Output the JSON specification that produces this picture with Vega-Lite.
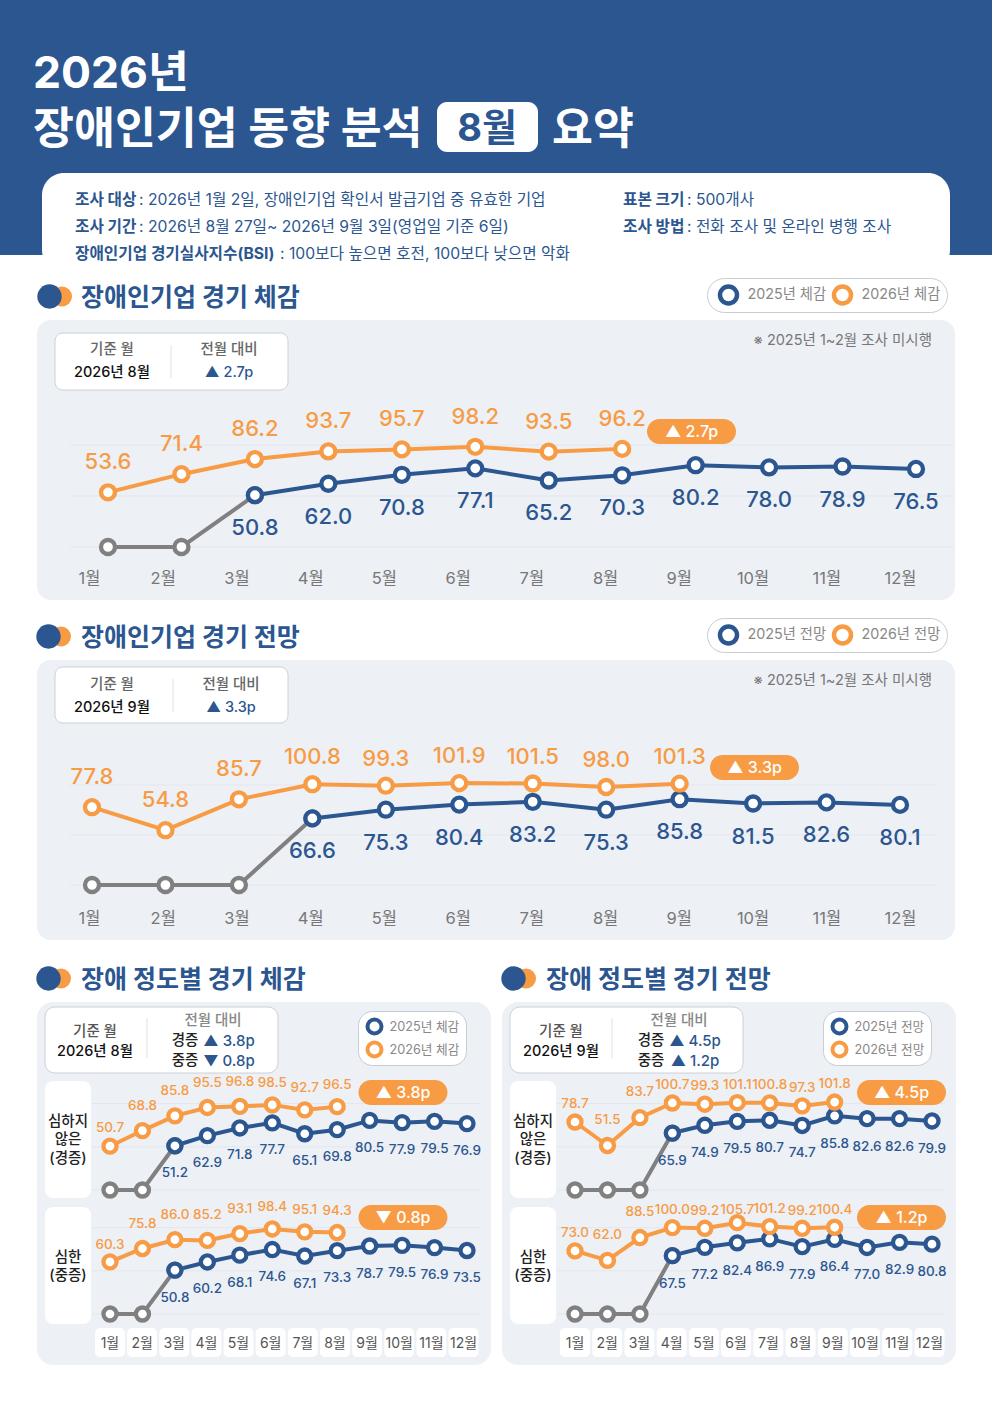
{
"$schema":"https://vega.github.io/schema/vega-lite/v6.json",
"padding":0,"spacing":0,"bounds":"flush","center":true,
"resolve":{"scale":{"stroke":"independent"},"legend":{"stroke":"independent"}},
"config":{"font":"Inter, 'Noto Sans CJK KR'","view":{"stroke":null},"scale":{"pointPadding":0,"bandPaddingInner":0,"bandPaddingOuter":0},"text":{"baseline":"middle"},"legend":{"fillColor":"#fff","strokeColor":"#c8ccd3","padding":6,"labelColor":"#888","symbolType":"circle"}},
"datasets":{
"months":[{"month":"1월"},{"month":"2월"},{"month":"3월"},{"month":"4월"},{"month":"5월"},{"month":"6월"},{"month":"7월"},{"month":"8월"},{"month":"9월"},{"month":"10월"},{"month":"11월"},{"month":"12월"}],
"grid":[{"value":0},{"value":50},{"value":100}],
"info":[{"c":"좌","line":"대상","head":"조사 대상","body":": 2026년 1월 2일, 장애인기업 확인서 발급기업 중 유효한 기업"},{"c":"좌","line":"기간","head":"조사 기간","body":": 2026년 8월 27일~ 2026년 9월 3일(영업일 기준 6일)"},{"c":"좌","line":"지수","head":"장애인기업 경기실사지수(BSI)","body":": 100보다 높으면 호전, 100보다 낮으면 악화"},{"c":"우","line":"대상","head":"표본 크기","body":": 500개사"},{"c":"우","line":"기간","head":"조사 방법","body":": 전화 조사 및 온라인 병행 조사"}],
"kpi":[{"side":"좌","sev":"경증","v":"▲ 3.8p","label":"심하지\n않은\n(경증)"},{"side":"좌","sev":"중증","v":"▼ 0.8p","label":"심한\n(중증)"},{"side":"우","sev":"경증","v":"▲ 4.5p","label":"심하지\n않은\n(경증)"},{"side":"우","sev":"중증","v":"▲ 1.2p","label":"심한\n(중증)"}],
"sense":[{"series":"미시행","month":"1월","value":0},{"series":"미시행","month":"2월","value":0},{"series":"미시행","month":"3월","value":50.8},
{"series":"2025년 체감","month":"3월","value":50.8},{"series":"2025년 체감","month":"4월","value":62.0},{"series":"2025년 체감","month":"5월","value":70.8},{"series":"2025년 체감","month":"6월","value":77.1},{"series":"2025년 체감","month":"7월","value":65.2},{"series":"2025년 체감","month":"8월","value":70.3},{"series":"2025년 체감","month":"9월","value":80.2},{"series":"2025년 체감","month":"10월","value":78.0},{"series":"2025년 체감","month":"11월","value":78.9},{"series":"2025년 체감","month":"12월","value":76.5},
{"series":"2026년 체감","month":"1월","value":53.6},{"series":"2026년 체감","month":"2월","value":71.4},{"series":"2026년 체감","month":"3월","value":86.2},{"series":"2026년 체감","month":"4월","value":93.7},{"series":"2026년 체감","month":"5월","value":95.7},{"series":"2026년 체감","month":"6월","value":98.2},{"series":"2026년 체감","month":"7월","value":93.5},{"series":"2026년 체감","month":"8월","value":96.2}],
"outlook":[{"series":"미시행","month":"1월","value":0},{"series":"미시행","month":"2월","value":0},{"series":"미시행","month":"3월","value":0},{"series":"미시행","month":"4월","value":66.6},
{"series":"2025년 전망","month":"4월","value":66.6},{"series":"2025년 전망","month":"5월","value":75.3},{"series":"2025년 전망","month":"6월","value":80.4},{"series":"2025년 전망","month":"7월","value":83.2},{"series":"2025년 전망","month":"8월","value":75.3},{"series":"2025년 전망","month":"9월","value":85.8},{"series":"2025년 전망","month":"10월","value":81.5},{"series":"2025년 전망","month":"11월","value":82.6},{"series":"2025년 전망","month":"12월","value":80.1},
{"series":"2026년 전망","month":"1월","value":77.8},{"series":"2026년 전망","month":"2월","value":54.8},{"series":"2026년 전망","month":"3월","value":85.7},{"series":"2026년 전망","month":"4월","value":100.8},{"series":"2026년 전망","month":"5월","value":99.3},{"series":"2026년 전망","month":"6월","value":101.9},{"series":"2026년 전망","month":"7월","value":101.5},{"series":"2026년 전망","month":"8월","value":98.0},{"series":"2026년 전망","month":"9월","value":101.3}],
"mildSense":[{"series":"미시행","month":"1월","value":0},{"series":"미시행","month":"2월","value":0},{"series":"미시행","month":"3월","value":51.2},
{"series":"2025년 체감","month":"3월","value":51.2},{"series":"2025년 체감","month":"4월","value":62.9},{"series":"2025년 체감","month":"5월","value":71.8},{"series":"2025년 체감","month":"6월","value":77.7},{"series":"2025년 체감","month":"7월","value":65.1},{"series":"2025년 체감","month":"8월","value":69.8},{"series":"2025년 체감","month":"9월","value":80.5},{"series":"2025년 체감","month":"10월","value":77.9},{"series":"2025년 체감","month":"11월","value":79.5},{"series":"2025년 체감","month":"12월","value":76.9},
{"series":"2026년 체감","month":"1월","value":50.7},{"series":"2026년 체감","month":"2월","value":68.8},{"series":"2026년 체감","month":"3월","value":85.8},{"series":"2026년 체감","month":"4월","value":95.5},{"series":"2026년 체감","month":"5월","value":96.8},{"series":"2026년 체감","month":"6월","value":98.5},{"series":"2026년 체감","month":"7월","value":92.7},{"series":"2026년 체감","month":"8월","value":96.5}],
"severeSense":[{"series":"미시행","month":"1월","value":0},{"series":"미시행","month":"2월","value":0},{"series":"미시행","month":"3월","value":50.8},
{"series":"2025년 체감","month":"3월","value":50.8},{"series":"2025년 체감","month":"4월","value":60.2},{"series":"2025년 체감","month":"5월","value":68.1},{"series":"2025년 체감","month":"6월","value":74.6},{"series":"2025년 체감","month":"7월","value":67.1},{"series":"2025년 체감","month":"8월","value":73.3},{"series":"2025년 체감","month":"9월","value":78.7},{"series":"2025년 체감","month":"10월","value":79.5},{"series":"2025년 체감","month":"11월","value":76.9},{"series":"2025년 체감","month":"12월","value":73.5},
{"series":"2026년 체감","month":"1월","value":60.3},{"series":"2026년 체감","month":"2월","value":75.8},{"series":"2026년 체감","month":"3월","value":86.0},{"series":"2026년 체감","month":"4월","value":85.2},{"series":"2026년 체감","month":"5월","value":93.1},{"series":"2026년 체감","month":"6월","value":98.4},{"series":"2026년 체감","month":"7월","value":95.1},{"series":"2026년 체감","month":"8월","value":94.3}],
"mildOutlook":[{"series":"미시행","month":"1월","value":0},{"series":"미시행","month":"2월","value":0},{"series":"미시행","month":"3월","value":0},{"series":"미시행","month":"4월","value":65.9},
{"series":"2025년 전망","month":"4월","value":65.9},{"series":"2025년 전망","month":"5월","value":74.9},{"series":"2025년 전망","month":"6월","value":79.5},{"series":"2025년 전망","month":"7월","value":80.7},{"series":"2025년 전망","month":"8월","value":74.7},{"series":"2025년 전망","month":"9월","value":85.8},{"series":"2025년 전망","month":"10월","value":82.6},{"series":"2025년 전망","month":"11월","value":82.6},{"series":"2025년 전망","month":"12월","value":79.9},
{"series":"2026년 전망","month":"1월","value":78.7},{"series":"2026년 전망","month":"2월","value":51.5},{"series":"2026년 전망","month":"3월","value":83.7},{"series":"2026년 전망","month":"4월","value":100.7},{"series":"2026년 전망","month":"5월","value":99.3},{"series":"2026년 전망","month":"6월","value":101.1},{"series":"2026년 전망","month":"7월","value":100.8},{"series":"2026년 전망","month":"8월","value":97.3},{"series":"2026년 전망","month":"9월","value":101.8}],
"severeOutlook":[{"series":"미시행","month":"1월","value":0},{"series":"미시행","month":"2월","value":0},{"series":"미시행","month":"3월","value":0},{"series":"미시행","month":"4월","value":67.5},
{"series":"2025년 전망","month":"4월","value":67.5},{"series":"2025년 전망","month":"5월","value":77.2},{"series":"2025년 전망","month":"6월","value":82.4},{"series":"2025년 전망","month":"7월","value":86.9},{"series":"2025년 전망","month":"8월","value":77.9},{"series":"2025년 전망","month":"9월","value":86.4},{"series":"2025년 전망","month":"10월","value":77.0},{"series":"2025년 전망","month":"11월","value":82.9},{"series":"2025년 전망","month":"12월","value":80.8},
{"series":"2026년 전망","month":"1월","value":73.0},{"series":"2026년 전망","month":"2월","value":62.0},{"series":"2026년 전망","month":"3월","value":88.5},{"series":"2026년 전망","month":"4월","value":100.0},{"series":"2026년 전망","month":"5월","value":99.2},{"series":"2026년 전망","month":"6월","value":105.7},{"series":"2026년 전망","month":"7월","value":101.2},{"series":"2026년 전망","month":"8월","value":99.2},{"series":"2026년 전망","month":"9월","value":100.4}]
},
"vconcat":[
{"width":992,"height":255,"view":{"fill":"#2b5690"},
"resolve":{"scale":{"x":"independent","y":"independent"}},
"layer":[
{"data":{"values":[{"k":"개요"}]},"mark":{"type":"rect","fill":"#fff","cornerRadius":22},"encoding":{"x":{"field":"k","type":"nominal","scale":{"range":[42,950]},"axis":null},"y":{"field":"k","type":"nominal","scale":{"range":[173,272]},"axis":null}}},
{"data":{"values":[{"t":"2026년"},{"t":"장애인기업 동향 분석"}]},"mark":{"type":"text","align":"left","fontSize":44.5,"fontWeight":700,"fill":"#fff"},"encoding":{"x":{"field":"t","type":"nominal","scale":{"range":[33,33]},"axis":null},"y":{"field":"t","type":"nominal","scale":{"domain":["2026년","장애인기업 동향 분석"],"range":[75,130.5]},"axis":null},"text":{"field":"t"}}},
{"data":{"values":[{"k":"8월"}]},"mark":{"type":"rect","fill":"#fff","cornerRadius":10},"encoding":{"x":{"field":"k","type":"nominal","scale":{"range":[437,538]},"axis":null},"y":{"field":"k","type":"nominal","scale":{"range":[102,152]},"axis":null}}},
{"data":{"values":[{"t":"8월"}]},"mark":{"type":"text","fontSize":38,"fontWeight":700,"fill":"#2b5690"},"encoding":{"x":{"field":"t","type":"nominal","scale":{"range":[487,487]},"axis":null},"y":{"field":"t","type":"nominal","scale":{"range":[129.5,129.5]},"axis":null},"text":{"field":"t"}}},
{"data":{"values":[{"t":"요약"}]},"mark":{"type":"text","align":"left","fontSize":44.5,"fontWeight":700,"fill":"#fff"},"encoding":{"x":{"field":"t","type":"nominal","scale":{"range":[552,552]},"axis":null},"y":{"field":"t","type":"nominal","scale":{"range":[130.5,130.5]},"axis":null},"text":{"field":"t"}}},
{"data":{"name":"info"},"mark":{"type":"text","align":"left","fontSize":15.7,"fontWeight":700,"fill":"#2b5690"},"encoding":{"x":{"field":"c","type":"nominal","scale":{"domain":["좌","우"],"range":[75,623]},"axis":null},"y":{"field":"line","type":"nominal","scale":{"domain":["대상","기간","지수"],"range":[200,254]},"axis":null},"text":{"field":"head"}}},
{"data":{"name":"info"},"transform":[{"filter":"datum.c==='좌'&&datum.line!=='지수'"}],"mark":{"type":"text","align":"left","fontSize":15.7,"fill":"#2b5690"},"encoding":{"x":{"field":"c","type":"nominal","scale":{"range":[139,139]},"axis":null},"y":{"field":"line","type":"nominal","scale":{"domain":["대상","기간","지수"],"range":[200,254]},"axis":null},"text":{"field":"body"}}},
{"data":{"name":"info"},"transform":[{"filter":"datum.line==='지수'"}],"mark":{"type":"text","align":"left","fontSize":15.7,"fill":"#2b5690"},"encoding":{"x":{"field":"c","type":"nominal","scale":{"range":[280,280]},"axis":null},"y":{"field":"line","type":"nominal","scale":{"domain":["대상","기간","지수"],"range":[200,254]},"axis":null},"text":{"field":"body"}}},
{"data":{"name":"info"},"transform":[{"filter":"datum.c==='우'"}],"mark":{"type":"text","align":"left","fontSize":15.7,"fill":"#2b5690"},"encoding":{"x":{"field":"c","type":"nominal","scale":{"range":[687,687]},"axis":null},"y":{"field":"line","type":"nominal","scale":{"domain":["대상","기간","지수"],"range":[200,254]},"axis":null},"text":{"field":"body"}}}
]},
{"width":992,"height":65,"data":{"values":[{"h":"장애인기업 경기 체감"}]},
"encoding":{"y":{"field":"h","type":"nominal","scale":{"range":[41.5,41.5]},"axis":null}},
"resolve":{"scale":{"x":"independent"}},
"layer":[
{"mark":{"type":"circle","size":400,"fill":"#f79b45","opacity":1},"encoding":{"x":{"field":"h","type":"nominal","scale":{"range":[62,62]},"axis":null}}},
{"mark":{"type":"circle","size":595,"fill":"#2b5690","opacity":1},"encoding":{"x":{"field":"h","type":"nominal","scale":{"range":[49.5,49.5]},"axis":null}}},
{"mark":{"type":"text","align":"left","fontSize":25,"fontWeight":700,"fill":"#2b5690","dy":1.5},"encoding":{"x":{"field":"h","type":"nominal","scale":{"range":[81,81]},"axis":null},"text":{"field":"h"}}}
]},
{"width":918,"height":280,"view":{"fill":"#edf0f5","cornerRadius":14},
"resolve":{"scale":{"x":"independent","y":"independent"},"axis":{"x":"independent","y":"independent"}},
"layer":[
{"data":{"name":"grid"},"mark":{"type":"rule","stroke":"#e3e6ec","strokeWidth":1},"encoding":{"x":{"datum":0,"type":"quantitative","scale":{"domain":[0,1],"range":[33,916]},"axis":null},"x2":{"datum":1},"y":{"field":"value","type":"quantitative","scale":{"domain":[0,100],"range":[227,125]},"axis":null}}},
{"data":{"name":"months"},"mark":{"type":"point","opacity":0},"encoding":{"x":{"field":"month","type":"nominal","sort":null,"scale":{"range":[52,863]},"axis":{"title":null,"orient":"bottom","domain":false,"ticks":false,"grid":false,"labelAngle":0,"labelFontSize":16.5,"labelColor":"#777","labelPadding":0,"labelOverlap":false,"offset":-30}}}},
{"data":{"values":[{"k":"기준"}]},"mark":{"type":"rect","fill":"#fff","stroke":"#ccd0d8","cornerRadius":8},"encoding":{"x":{"field":"k","type":"nominal","scale":{"range":[18,251]},"axis":null},"y":{"field":"k","type":"nominal","scale":{"range":[13,70]},"axis":null}}},
{"data":{"values":[{"k":"구분"}]},"mark":{"type":"rule","stroke":"#dfe2e8"},"encoding":{"x":{"field":"k","type":"nominal","scale":{"type":"point","range":[134,134]},"axis":null},"y":{"datum":0,"type":"quantitative","scale":{"domain":[0,1],"range":[25,58]},"axis":null},"y2":{"datum":1}}},
{"data":{"values":[{"c":"기준","r":"머리","t":"기준 월"},{"c":"기준","r":"값","t":"2026년 8월"},{"c":"대비","r":"머리","t":"전월 대비"},{"c":"대비","r":"값","t":"▲ 2.7p"}]},"mark":{"type":"text","fontSize":14.5,"fontWeight":500},"encoding":{"x":{"field":"c","type":"nominal","scale":{"domain":["기준","대비"],"range":[75,192]},"axis":null},"y":{"field":"r","type":"nominal","scale":{"domain":["머리","값"],"range":[30,53]},"axis":null},"text":{"field":"t"},"color":{"condition":[{"test":"datum.r==='값'&&datum.c==='기준'","value":"#111"},{"test":"datum.r==='값'","value":"#2b5690"}],"value":"#666"}}},
{"data":{"values":[{"t":"※ 2025년 1~2월 조사 미시행"}]},"mark":{"type":"text","align":"right","fontSize":14.5,"fill":"#777"},"encoding":{"x":{"field":"t","type":"nominal","scale":{"range":[895,895]},"axis":null},"y":{"field":"t","type":"nominal","scale":{"range":[21,21]},"axis":null},"text":{"field":"t"}}},
{"data":{"values":[{"k":"증감"}]},"mark":{"type":"rect","fill":"#f79b45","cornerRadius":12.5},"encoding":{"x":{"field":"k","type":"nominal","scale":{"range":[610,699]},"axis":null},"y":{"field":"k","type":"nominal","scale":{"range":[99,124]},"axis":null}}},
{"data":{"values":[{"t":"▲ 2.7p"}]},"mark":{"type":"text","fontSize":16,"fontWeight":500,"fill":"#fff"},"encoding":{"x":{"field":"t","type":"nominal","scale":{"range":[654.5,654.5]},"axis":null},"y":{"field":"t","type":"nominal","scale":{"range":[112,112]},"axis":null},"text":{"field":"t"}}},
{"data":{"name":"sense"},
"encoding":{"x":{"field":"month","type":"nominal","sort":null,"scale":{"range":[71,879]},"axis":null},"y":{"field":"value","type":"quantitative","scale":{"domain":[0,100],"range":[227,125]},"axis":null}},
"layer":[
{"mark":{"type":"line","strokeWidth":4},"encoding":{"stroke":{"field":"series","type":"nominal","scale":{"domain":["미시행","2025년 체감","2026년 체감"],"range":["#808080","#2b5690","#f79b45"]},"legend":{"orient":"none","legendX":670,"legendY":-42,"zindex":2,"direction":"horizontal","title":null,"values":["2025년 체감","2026년 체감"],"cornerRadius":17,"clipHeight":22,"labelFontSize":14.3,"labelExpr":"datum.label+'\u00a0'","symbolSize":289,"symbolStrokeWidth":4.5,"symbolOffset":4.5,"labelOffset":8,"columnPadding":0}}}},
{"mark":{"type":"point","shape":"circle","filled":true,"fill":"#fff","opacity":1,"size":196,"strokeWidth":4.3},"encoding":{"stroke":{"field":"series","type":"nominal","scale":{"domain":["미시행","2025년 체감","2026년 체감"],"range":["#808080","#2b5690","#f79b45"]},"legend":{"orient":"none","legendX":670,"legendY":-42,"zindex":2,"direction":"horizontal","title":null,"values":["2025년 체감","2026년 체감"],"cornerRadius":17,"clipHeight":22,"labelFontSize":14.3,"labelExpr":"datum.label+'\u00a0'","symbolSize":289,"symbolStrokeWidth":4.5,"symbolOffset":4.5,"labelOffset":8,"columnPadding":0}}}},
{"transform":[{"filter":"datum.series==='2025년 체감'"}],"mark":{"type":"text","dy":33,"fontSize":22,"fontWeight":500,"fill":"#2b5690"},"encoding":{"text":{"field":"value","format":".1f"}}},
{"transform":[{"filter":"datum.series==='2026년 체감'"}],"mark":{"type":"text","dy":-30,"fontSize":22,"fontWeight":500,"fill":"#f79b45"},"encoding":{"text":{"field":"value","format":".1f"}}}
]}
]},
{"width":992,"height":60,"data":{"values":[{"h":"장애인기업 경기 전망"}]},
"encoding":{"y":{"field":"h","type":"nominal","scale":{"range":[36.5,36.5]},"axis":null}},
"resolve":{"scale":{"x":"independent"}},
"layer":[
{"mark":{"type":"circle","size":400,"fill":"#f79b45","opacity":1},"encoding":{"x":{"field":"h","type":"nominal","scale":{"range":[61,61]},"axis":null}}},
{"mark":{"type":"circle","size":595,"fill":"#2b5690","opacity":1},"encoding":{"x":{"field":"h","type":"nominal","scale":{"range":[48.5,48.5]},"axis":null}}},
{"mark":{"type":"text","align":"left","fontSize":25,"fontWeight":700,"fill":"#2b5690","dy":1.5},"encoding":{"x":{"field":"h","type":"nominal","scale":{"range":[81,81]},"axis":null},"text":{"field":"h"}}}
]},
{"width":918,"height":280,"view":{"fill":"#edf0f5","cornerRadius":14},
"resolve":{"scale":{"x":"independent","y":"independent"},"axis":{"x":"independent","y":"independent"}},
"layer":[
{"data":{"name":"grid"},"mark":{"type":"rule","stroke":"#e3e6ec","strokeWidth":1},"encoding":{"x":{"datum":0,"type":"quantitative","scale":{"domain":[0,1],"range":[33,900]},"axis":null},"x2":{"datum":1},"y":{"field":"value","type":"quantitative","scale":{"domain":[0,100],"range":[225,125]},"axis":null}}},
{"data":{"name":"months"},"mark":{"type":"point","opacity":0},"encoding":{"x":{"field":"month","type":"nominal","sort":null,"scale":{"range":[52,863]},"axis":{"title":null,"orient":"bottom","domain":false,"ticks":false,"grid":false,"labelAngle":0,"labelFontSize":16.5,"labelColor":"#777","labelPadding":0,"labelOverlap":false,"offset":-30}}}},
{"data":{"values":[{"k":"기준"}]},"mark":{"type":"rect","fill":"#fff","stroke":"#ccd0d8","cornerRadius":8},"encoding":{"x":{"field":"k","type":"nominal","scale":{"range":[18,251]},"axis":null},"y":{"field":"k","type":"nominal","scale":{"range":[7,63]},"axis":null}}},
{"data":{"values":[{"k":"구분"}]},"mark":{"type":"rule","stroke":"#dfe2e8"},"encoding":{"x":{"field":"k","type":"nominal","scale":{"type":"point","range":[136,136]},"axis":null},"y":{"datum":0,"type":"quantitative","scale":{"domain":[0,1],"range":[19,52]},"axis":null},"y2":{"datum":1}}},
{"data":{"values":[{"c":"기준","r":"머리","t":"기준 월"},{"c":"기준","r":"값","t":"2026년 9월"},{"c":"대비","r":"머리","t":"전월 대비"},{"c":"대비","r":"값","t":"▲ 3.3p"}]},"mark":{"type":"text","fontSize":14.5,"fontWeight":500},"encoding":{"x":{"field":"c","type":"nominal","scale":{"domain":["기준","대비"],"range":[75,194]},"axis":null},"y":{"field":"r","type":"nominal","scale":{"domain":["머리","값"],"range":[25,48]},"axis":null},"text":{"field":"t"},"color":{"condition":[{"test":"datum.r==='값'&&datum.c==='기준'","value":"#111"},{"test":"datum.r==='값'","value":"#2b5690"}],"value":"#666"}}},
{"data":{"values":[{"t":"※ 2025년 1~2월 조사 미시행"}]},"mark":{"type":"text","align":"right","fontSize":14.5,"fill":"#777"},"encoding":{"x":{"field":"t","type":"nominal","scale":{"range":[895,895]},"axis":null},"y":{"field":"t","type":"nominal","scale":{"range":[21,21]},"axis":null},"text":{"field":"t"}}},
{"data":{"values":[{"k":"증감"}]},"mark":{"type":"rect","fill":"#f79b45","cornerRadius":12.5},"encoding":{"x":{"field":"k","type":"nominal","scale":{"range":[673,762]},"axis":null},"y":{"field":"k","type":"nominal","scale":{"range":[95,120]},"axis":null}}},
{"data":{"values":[{"t":"▲ 3.3p"}]},"mark":{"type":"text","fontSize":16,"fontWeight":500,"fill":"#fff"},"encoding":{"x":{"field":"t","type":"nominal","scale":{"range":[717.5,717.5]},"axis":null},"y":{"field":"t","type":"nominal","scale":{"range":[108,108]},"axis":null},"text":{"field":"t"}}},
{"data":{"name":"outlook"},
"encoding":{"x":{"field":"month","type":"nominal","sort":null,"scale":{"range":[55,863]},"axis":null},"y":{"field":"value","type":"quantitative","scale":{"domain":[0,100],"range":[225,125]},"axis":null}},
"layer":[
{"mark":{"type":"line","strokeWidth":4},"encoding":{"stroke":{"field":"series","type":"nominal","scale":{"domain":["미시행","2025년 전망","2026년 전망"],"range":["#808080","#2b5690","#f79b45"]},"legend":{"orient":"none","legendX":670,"legendY":-42,"zindex":2,"direction":"horizontal","title":null,"values":["2025년 전망","2026년 전망"],"cornerRadius":17,"clipHeight":22,"labelFontSize":14.3,"labelExpr":"datum.label+'\u00a0'","symbolSize":289,"symbolStrokeWidth":4.5,"symbolOffset":4.5,"labelOffset":8,"columnPadding":0}}}},
{"mark":{"type":"point","shape":"circle","filled":true,"fill":"#fff","opacity":1,"size":196,"strokeWidth":4.3},"encoding":{"stroke":{"field":"series","type":"nominal","scale":{"domain":["미시행","2025년 전망","2026년 전망"],"range":["#808080","#2b5690","#f79b45"]},"legend":{"orient":"none","legendX":670,"legendY":-42,"zindex":2,"direction":"horizontal","title":null,"values":["2025년 전망","2026년 전망"],"cornerRadius":17,"clipHeight":22,"labelFontSize":14.3,"labelExpr":"datum.label+'\u00a0'","symbolSize":289,"symbolStrokeWidth":4.5,"symbolOffset":4.5,"labelOffset":8,"columnPadding":0}}}},
{"transform":[{"filter":"datum.series==='2025년 전망'"}],"mark":{"type":"text","dy":33,"fontSize":22,"fontWeight":500,"fill":"#2b5690"},"encoding":{"text":{"field":"value","format":".1f"}}},
{"transform":[{"filter":"datum.series==='2026년 전망'"}],"mark":{"type":"text","dy":{"expr":"indexof(['1월','2월','3월'],datum.month)>=0?-30:-27"},"fontSize":22,"fontWeight":500,"fill":"#f79b45"},"encoding":{"text":{"field":"value","format":".1f"}}}
]}
]},
{"width":992,"height":463,
"resolve":{"scale":{"x":"independent","y":"independent","stroke":"independent"},"axis":{"x":"independent","y":"independent"}},
"layer":[
{"data":{"values":[{"h":"장애 정도별 경기 체감"},{"h":"장애 정도별 경기 전망"}]},
"encoding":{"y":{"field":"h","type":"nominal","scale":{"range":[38.5,38.5]},"axis":null}},
"resolve":{"scale":{"x":"independent"}},
"layer":[
{"mark":{"type":"circle","size":400,"fill":"#f79b45","opacity":1},"encoding":{"x":{"field":"h","type":"nominal","sort":null,"scale":{"range":[61,526]},"axis":null}}},
{"mark":{"type":"circle","size":595,"fill":"#2b5690","opacity":1},"encoding":{"x":{"field":"h","type":"nominal","sort":null,"scale":{"range":[48.5,513.5]},"axis":null}}},
{"mark":{"type":"text","align":"left","fontSize":25,"fontWeight":700,"fill":"#2b5690","dy":1.5},"encoding":{"x":{"field":"h","type":"nominal","sort":null,"scale":{"range":[81,546]},"axis":null},"text":{"field":"h"}}}
]},
{"data":{"values":[{"side":"좌","k":"패널"},{"side":"우","k":"패널"}]},"mark":{"type":"rect","fill":"#edf0f5","cornerRadius":16},"encoding":{"x":{"field":"side","type":"nominal","sort":null,"scale":{"range":[37,956],"paddingInner":0.0237},"axis":null},"y":{"field":"k","type":"nominal","scale":{"range":[62,425]},"axis":null}}},
{"data":{"values":[{"side":"좌","k":"기준"},{"side":"우","k":"기준"}]},"mark":{"type":"rect","fill":"#fff","stroke":"#ccd0d8","cornerRadius":10},"encoding":{"x":{"field":"side","type":"nominal","sort":null,"scale":{"range":[45,743],"paddingInner":0.499},"axis":null},"y":{"field":"k","type":"nominal","scale":{"range":[67,133]},"axis":null}}},
{"data":{"values":[{"side":"좌"},{"side":"우"}]},"mark":{"type":"rule","stroke":"#dfe2e8"},"encoding":{"x":{"field":"side","type":"nominal","sort":null,"scale":{"type":"point","range":[147,612]},"axis":null},"y":{"datum":0,"type":"quantitative","scale":{"domain":[0,1],"range":[78,118]},"axis":null},"y2":{"datum":1}}},
{"data":{"values":[{"side":"좌","r":"머리","t":"기준 월"},{"side":"좌","r":"값","t":"2026년 8월"},{"side":"우","r":"머리","t":"기준 월"},{"side":"우","r":"값","t":"2026년 9월"}]},"mark":{"type":"text","fontSize":14.5,"fontWeight":500},"encoding":{"x":{"field":"side","type":"nominal","sort":null,"scale":{"range":[95,561]},"axis":null},"y":{"field":"r","type":"nominal","scale":{"domain":["머리","값"],"range":[91.5,111.5]},"axis":null},"text":{"field":"t"},"color":{"condition":{"test":"datum.r==='값'","value":"#111"},"value":"#555"}}},
{"data":{"values":[{"side":"좌","t":"전월 대비"},{"side":"우","t":"전월 대비"}]},"mark":{"type":"text","fontSize":14.5,"fontWeight":500,"fill":"#888"},"encoding":{"x":{"field":"side","type":"nominal","sort":null,"scale":{"range":[213,679]},"axis":null},"y":{"field":"t","type":"nominal","scale":{"range":[80.5,80.5]},"axis":null},"text":{"field":"t"}}},
{"data":{"name":"kpi"},"mark":{"type":"text","fontSize":14.5,"fontWeight":500,"fill":"#222"},"encoding":{"x":{"field":"side","type":"nominal","sort":null,"scale":{"range":[185,651]},"axis":null},"y":{"field":"sev","type":"nominal","sort":null,"scale":{"range":[100.5,120.5]},"axis":null},"text":{"field":"sev"}}},
{"data":{"name":"kpi"},"mark":{"type":"text","fontSize":15,"fontWeight":500,"fill":"#2b5690"},"encoding":{"x":{"field":"side","type":"nominal","sort":null,"scale":{"range":[229,695]},"axis":null},"y":{"field":"sev","type":"nominal","sort":null,"scale":{"range":[100.5,120.5]},"axis":null},"text":{"field":"v"}}},
{"data":{"name":"kpi"},"mark":{"type":"rect","fill":"#fff","cornerRadius":8},"encoding":{"x":{"field":"side","type":"nominal","sort":null,"scale":{"range":[45,556],"paddingInner":0.901},"axis":null},"y":{"field":"sev","type":"nominal","sort":null,"scale":{"range":[141,384],"paddingInner":0.0714},"axis":null}}},
{"data":{"name":"kpi"},"mark":{"type":"text","fontSize":14.5,"fontWeight":500,"fill":"#222","lineBreak":"\n","lineHeight":18.5},"encoding":{"x":{"field":"side","type":"nominal","sort":null,"scale":{"range":[68,533]},"axis":null},"y":{"field":"sev","type":"nominal","sort":null,"scale":{"range":[181.5,317.5]},"axis":null},"text":{"field":"label"}}},
{"data":{"name":"grid"},"mark":{"type":"rule","stroke":"#e3e6ec"},"encoding":{"x":{"datum":0,"type":"quantitative","scale":{"domain":[0,1],"range":[92,480]},"axis":null},"x2":{"datum":1},"y":{"field":"value","type":"quantitative","scale":{"domain":[0,100],"range":[250,163.6]},"axis":null}}},
{"data":{"name":"grid"},"mark":{"type":"rule","stroke":"#e3e6ec"},"encoding":{"x":{"datum":0,"type":"quantitative","scale":{"domain":[0,1],"range":[92,480]},"axis":null},"x2":{"datum":1},"y":{"field":"value","type":"quantitative","scale":{"domain":[0,100],"range":[374,287.6]},"axis":null}}},
{"data":{"name":"grid"},"mark":{"type":"rule","stroke":"#e3e6ec"},"encoding":{"x":{"datum":0,"type":"quantitative","scale":{"domain":[0,1],"range":[557,945]},"axis":null},"x2":{"datum":1},"y":{"field":"value","type":"quantitative","scale":{"domain":[0,100],"range":[250,163.6]},"axis":null}}},
{"data":{"name":"grid"},"mark":{"type":"rule","stroke":"#e3e6ec"},"encoding":{"x":{"datum":0,"type":"quantitative","scale":{"domain":[0,1],"range":[557,945]},"axis":null},"x2":{"datum":1},"y":{"field":"value","type":"quantitative","scale":{"domain":[0,100],"range":[374,287.6]},"axis":null}}},
{"data":{"name":"months"},"mark":{"type":"rect","fill":"#fff","cornerRadius":5},"encoding":{"x":{"field":"month","type":"nominal","sort":null,"scale":{"range":[95,478.5],"paddingInner":0.07},"axis":{"title":null,"orient":"bottom","domain":false,"ticks":false,"grid":false,"labelAngle":0,"labelFontSize":14,"labelColor":"#555","labelPadding":0,"labelOverlap":false,"offset":-67,"zindex":1}},"y":{"datum":0,"type":"quantitative","scale":{"domain":[0,1],"range":[388,417]},"axis":null},"y2":{"datum":1}}},
{"data":{"name":"months"},"mark":{"type":"rect","fill":"#fff","cornerRadius":5},"encoding":{"x":{"field":"month","type":"nominal","sort":null,"scale":{"range":[560,944.5],"paddingInner":0.07},"axis":{"title":null,"orient":"bottom","domain":false,"ticks":false,"grid":false,"labelAngle":0,"labelFontSize":14,"labelColor":"#555","labelPadding":0,"labelOverlap":false,"offset":-67,"zindex":1}},"y":{"datum":0,"type":"quantitative","scale":{"domain":[0,1],"range":[388,417]},"axis":null},"y2":{"datum":1}}},
{"data":{"name":"kpi"},"mark":{"type":"rect","fill":"#f79b45","cornerRadius":12.5},"encoding":{"x":{"field":"side","type":"nominal","sort":null,"scale":{"range":[358.5,946],"paddingInner":0.8215},"axis":null},"y":{"field":"sev","type":"nominal","sort":null,"scale":{"range":[140,290],"paddingInner":0.8},"axis":null}}},
{"data":{"name":"kpi"},"mark":{"type":"text","fontSize":16,"fontWeight":500,"fill":"#fff"},"encoding":{"x":{"field":"side","type":"nominal","sort":null,"scale":{"range":[403,901.5]},"axis":null},"y":{"field":"sev","type":"nominal","sort":null,"scale":{"range":[153,278]},"axis":null},"text":{"field":"v"}}},
{"data":{"name":"mildSense"},
"encoding":{"x":{"field":"month","type":"nominal","sort":null,"scale":{"range":[110,467]},"axis":null},"y":{"field":"value","type":"quantitative","scale":{"domain":[0,100],"range":[250,163.6]},"axis":null}},
"layer":[
{"mark":{"type":"line","strokeWidth":4},"encoding":{"stroke":{"field":"series","type":"nominal","scale":{"domain":["미시행","2025년 체감","2026년 체감"],"range":["#808080","#2b5690","#f79b45"]},"legend":{"orient":"none","legendX":358,"legendY":71,"zindex":2,"direction":"vertical","title":null,"values":["2025년 체감","2026년 체감"],"cornerRadius":14,"clipHeight":19,"labelFontSize":12.7,"labelExpr":"datum.label+'\u00a0\u00a0'","symbolSize":196,"symbolStrokeWidth":4,"symbolOffset":1.5,"labelOffset":6,"rowPadding":4}}}},
{"mark":{"type":"point","shape":"circle","filled":true,"fill":"#fff","opacity":1,"size":170,"strokeWidth":4.3},"encoding":{"stroke":{"field":"series","type":"nominal","scale":{"domain":["미시행","2025년 체감","2026년 체감"],"range":["#808080","#2b5690","#f79b45"]},"legend":{"orient":"none","legendX":358,"legendY":71,"zindex":2,"direction":"vertical","title":null,"values":["2025년 체감","2026년 체감"],"cornerRadius":14,"clipHeight":19,"labelFontSize":12.7,"labelExpr":"datum.label+'\u00a0\u00a0'","symbolSize":196,"symbolStrokeWidth":4,"symbolOffset":1.5,"labelOffset":6,"rowPadding":4}}}},
{"transform":[{"filter":"datum.series==='2025년 체감'"}],"mark":{"type":"text","dy":27.5,"fontSize":13.5,"fontWeight":500,"fill":"#2b5690"},"encoding":{"text":{"field":"value","format":".1f"}}},
{"transform":[{"filter":"datum.series==='2026년 체감'"}],"mark":{"type":"text","dy":{"expr":"datum.month==='1월'?-18:indexof(['2월','3월','4월','5월'],datum.month)>=0?-24.5:-21.5"},"fontSize":13.5,"fontWeight":500,"fill":"#f79b45"},"encoding":{"text":{"field":"value","format":".1f"}}}
]},
{"data":{"name":"severeSense"},
"encoding":{"x":{"field":"month","type":"nominal","sort":null,"scale":{"range":[110,467]},"axis":null},"y":{"field":"value","type":"quantitative","scale":{"domain":[0,100],"range":[374,287.6]},"axis":null}},
"layer":[
{"mark":{"type":"line","strokeWidth":4},"encoding":{"stroke":{"field":"series","type":"nominal","scale":{"domain":["미시행","2025년 체감","2026년 체감"],"range":["#808080","#2b5690","#f79b45"]},"legend":null}}},
{"mark":{"type":"point","shape":"circle","filled":true,"fill":"#fff","opacity":1,"size":170,"strokeWidth":4.3},"encoding":{"stroke":{"field":"series","type":"nominal","scale":{"domain":["미시행","2025년 체감","2026년 체감"],"range":["#808080","#2b5690","#f79b45"]},"legend":null}}},
{"transform":[{"filter":"datum.series==='2025년 체감'"}],"mark":{"type":"text","dy":27.5,"fontSize":13.5,"fontWeight":500,"fill":"#2b5690"},"encoding":{"text":{"field":"value","format":".1f"}}},
{"transform":[{"filter":"datum.series==='2026년 체감'"}],"mark":{"type":"text","dy":{"expr":"datum.month==='1월'?-17:indexof(['2월','3월','4월','5월'],datum.month)>=0?-25:-21.5"},"fontSize":13.5,"fontWeight":500,"fill":"#f79b45"},"encoding":{"text":{"field":"value","format":".1f"}}}
]},
{"data":{"name":"mildOutlook"},
"encoding":{"x":{"field":"month","type":"nominal","sort":null,"scale":{"range":[575,932]},"axis":null},"y":{"field":"value","type":"quantitative","scale":{"domain":[0,100],"range":[250,163.6]},"axis":null}},
"layer":[
{"mark":{"type":"line","strokeWidth":4},"encoding":{"stroke":{"field":"series","type":"nominal","scale":{"domain":["미시행","2025년 전망","2026년 전망"],"range":["#808080","#2b5690","#f79b45"]},"legend":{"orient":"none","legendX":823,"legendY":71,"zindex":2,"direction":"vertical","title":null,"values":["2025년 전망","2026년 전망"],"cornerRadius":14,"clipHeight":19,"labelFontSize":12.7,"labelExpr":"datum.label+'\u00a0\u00a0'","symbolSize":196,"symbolStrokeWidth":4,"symbolOffset":1.5,"labelOffset":6,"rowPadding":4}}}},
{"mark":{"type":"point","shape":"circle","filled":true,"fill":"#fff","opacity":1,"size":170,"strokeWidth":4.3},"encoding":{"stroke":{"field":"series","type":"nominal","scale":{"domain":["미시행","2025년 전망","2026년 전망"],"range":["#808080","#2b5690","#f79b45"]},"legend":{"orient":"none","legendX":823,"legendY":71,"zindex":2,"direction":"vertical","title":null,"values":["2025년 전망","2026년 전망"],"cornerRadius":14,"clipHeight":19,"labelFontSize":12.7,"labelExpr":"datum.label+'\u00a0\u00a0'","symbolSize":196,"symbolStrokeWidth":4,"symbolOffset":1.5,"labelOffset":6,"rowPadding":4}}}},
{"transform":[{"filter":"datum.series==='2025년 전망'"}],"mark":{"type":"text","dy":28,"fontSize":13.5,"fontWeight":500,"fill":"#2b5690"},"encoding":{"text":{"field":"value","format":".1f"}}},
{"transform":[{"filter":"datum.series==='2026년 전망'"}],"mark":{"type":"text","dy":{"expr":"indexof(['2월','3월'],datum.month)>=0?-25.5:-18"},"fontSize":13.5,"fontWeight":500,"fill":"#f79b45"},"encoding":{"text":{"field":"value","format":".1f"}}}
]},
{"data":{"name":"severeOutlook"},
"encoding":{"x":{"field":"month","type":"nominal","sort":null,"scale":{"range":[575,932]},"axis":null},"y":{"field":"value","type":"quantitative","scale":{"domain":[0,100],"range":[374,287.6]},"axis":null}},
"layer":[
{"mark":{"type":"line","strokeWidth":4},"encoding":{"stroke":{"field":"series","type":"nominal","scale":{"domain":["미시행","2025년 전망","2026년 전망"],"range":["#808080","#2b5690","#f79b45"]},"legend":null}}},
{"mark":{"type":"point","shape":"circle","filled":true,"fill":"#fff","opacity":1,"size":170,"strokeWidth":4.3},"encoding":{"stroke":{"field":"series","type":"nominal","scale":{"domain":["미시행","2025년 전망","2026년 전망"],"range":["#808080","#2b5690","#f79b45"]},"legend":null}}},
{"transform":[{"filter":"datum.series==='2025년 전망'"}],"mark":{"type":"text","dy":28,"fontSize":13.5,"fontWeight":500,"fill":"#2b5690"},"encoding":{"text":{"field":"value","format":".1f"}}},
{"transform":[{"filter":"datum.series==='2026년 전망'"}],"mark":{"type":"text","dy":{"expr":"indexof(['2월','3월'],datum.month)>=0?-25.5:datum.month==='6월'?-13:-17.5"},"fontSize":13.5,"fontWeight":500,"fill":"#f79b45"},"encoding":{"text":{"field":"value","format":".1f"}}}
]}
]}
]}
